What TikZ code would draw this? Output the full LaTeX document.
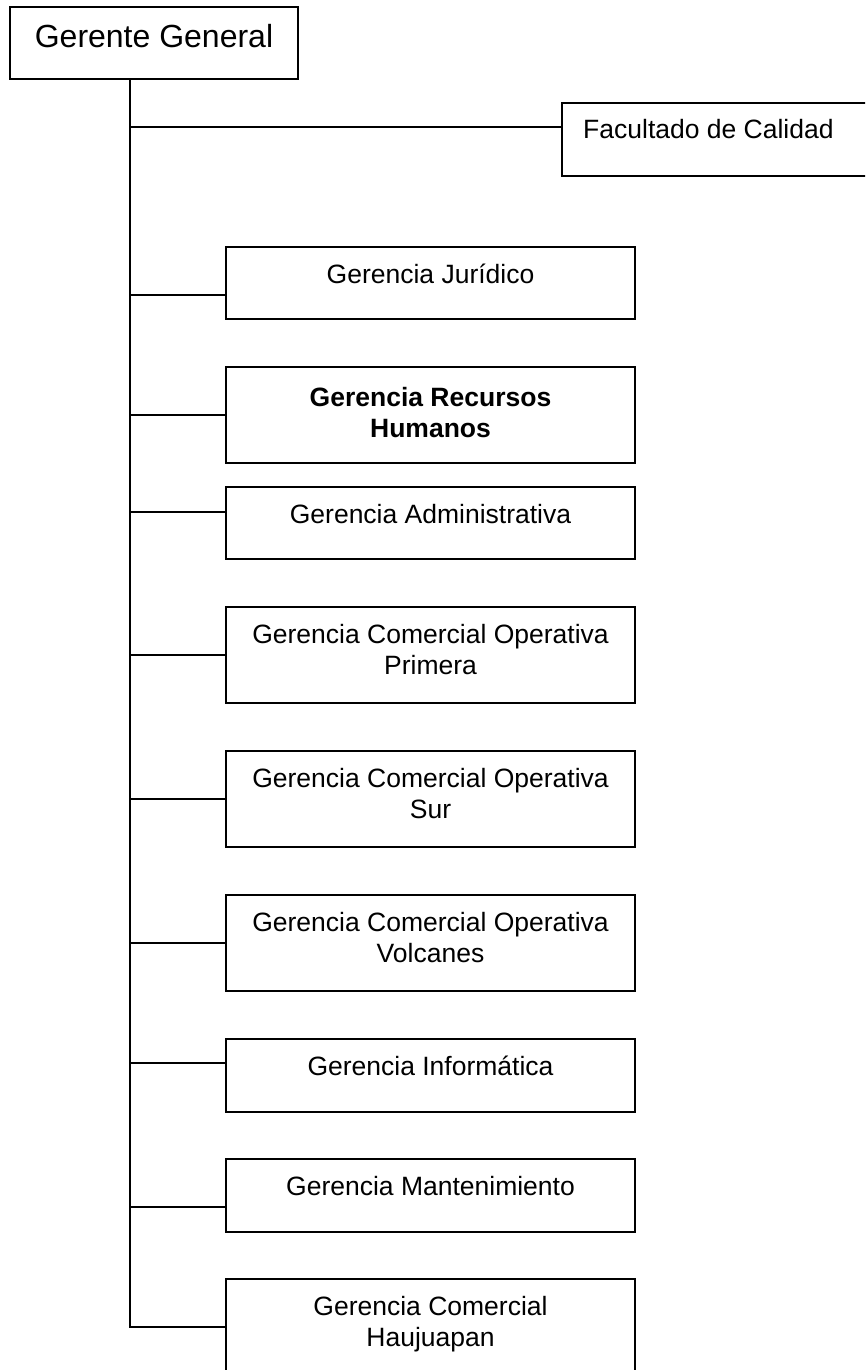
\documentclass[tikz,border=0pt]{standalone}
\usepackage{fontspec}
\setmainfont{Liberation Sans}
\begin{document}
\begin{tikzpicture}[x=1pt,y=-1pt,
  box/.style={draw, line width=2pt, minimum width=409pt, minimum height=72pt, inner sep=0pt, outer sep=0pt, anchor=north west},
  txt/.style={font=\fontsize{26.5}{31.5}\selectfont, align=center, inner sep=0pt, anchor=north, yshift=-17pt},
  branch/.style={line width=1.6pt},
  trunk/.style={line width=2pt}]
\clip (0,0) rectangle (865,1370);
\fill[white] (0,0) rectangle (865,1370);
% boxes
\node[box, minimum width=288pt, minimum height=72pt] (gg) at (10,7) {};
\node[box, minimum width=330pt, minimum height=73pt] (fc) at (562,103) {};
\node[box] (bJ) at (226,247) {};
\node[box, minimum height=96pt] (bR) at (226,367) {};
\node[box] (bA) at (226,487) {};
\node[box, minimum height=96pt] (bP) at (226,607) {};
\node[box, minimum height=96pt] (bS) at (226,751) {};
\node[box, minimum height=96pt] (bV) at (226,895) {};
\node[box, minimum height=73pt] (bI) at (226,1039) {};
\node[box, minimum height=73pt] (bM) at (226,1159) {};
\node[box, minimum height=120pt] (bH) at (226,1279) {};
% texts
\node[txt, font=\fontsize{32}{38}\selectfont] (tG) at (gg.north) {Gerente General};
\node[txt, anchor=north west, align=left, yshift=1pt, xshift=21pt] (tF) at (fc.north west) {Facultado de Calidad};
\node[txt] (tJ) at (bJ.north) {Gerencia Jurídico};
\node[txt, font=\fontsize{26.5}{31.5}\selectfont\bfseries, yshift=-3pt] (tR) at (bR.north) {Gerencia Recursos\\Humanos};
\node[txt] (tA) at (bA.north) {Gerencia Administrativa};
\node[txt] (tP) at (bP.north) {Gerencia Comercial Operativa\\Primera};
\node[txt] (tS) at (bS.north) {Gerencia Comercial Operativa\\Sur};
\node[txt] (tV) at (bV.north) {Gerencia Comercial Operativa\\Volcanes};
\node[txt] (tI) at (bI.north) {Gerencia Informática};
\node[txt] (tM) at (bM.north) {Gerencia Mantenimiento};
\node[txt] (tH) at (bH.north) {Gerencia Comercial\\Haujuapan};
% trunk coordinates
\coordinate (kF) at (130,127);
\coordinate (kJ) at (130,295);
\coordinate (kR) at (130,415);
\coordinate (kA) at (130,512);
\coordinate (kP) at (130,655);
\coordinate (kS) at (130,799);
\coordinate (kV) at (130,943);
\coordinate (kI) at (130,1063);
\coordinate (kM) at (130,1207);
\coordinate (kH) at (130,1327);
% connectors
\draw[trunk] (gg.south -| kF) -- (kH) -- (kH -| bH.west);
\draw[branch] (kF) -- (kF -| fc.west);
\draw[branch] (kJ) -- (kJ -| bJ.west);
\draw[branch] (kR) -- (kR -| bR.west);
\draw[branch] (kA) -- (kA -| bA.west);
\draw[branch] (kP) -- (kP -| bP.west);
\draw[branch] (kS) -- (kS -| bS.west);
\draw[branch] (kV) -- (kV -| bV.west);
\draw[branch] (kI) -- (kI -| bI.west);
\draw[branch] (kM) -- (kM -| bM.west);
\end{tikzpicture}
\end{document}
